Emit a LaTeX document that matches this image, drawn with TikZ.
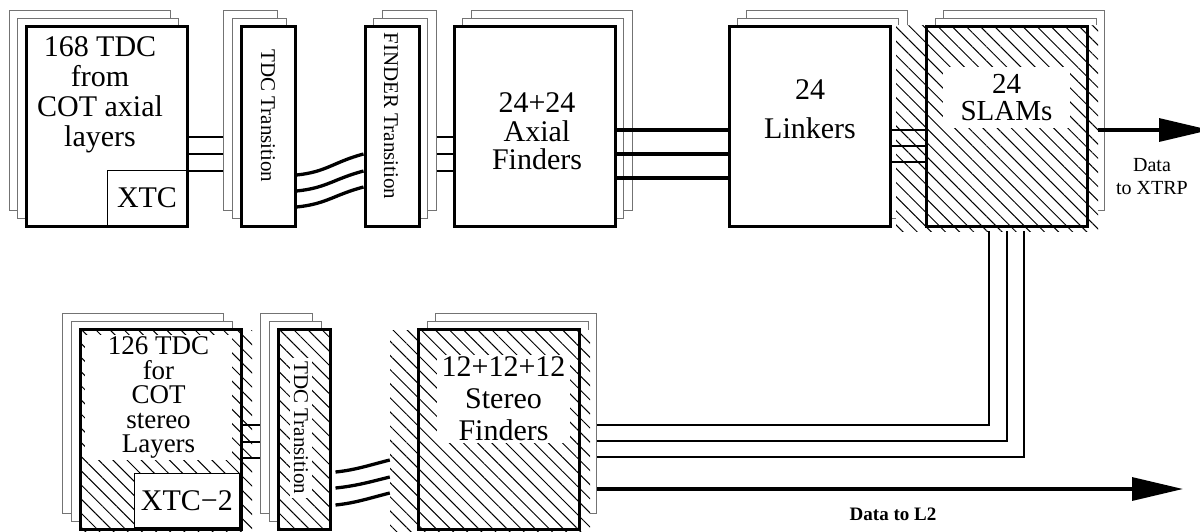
\documentclass[tikz,border=0pt]{standalone}
\usepackage{fontspec}
\setmainfont{Liberation Serif}
\usetikzlibrary{arrows.meta, calc, patterns.meta}

\pgfdeclarelayer{sheets}
\pgfdeclarelayer{hatching}
\pgfsetlayers{sheets,hatching,main}

\begin{document}
\begin{tikzpicture}[
    x=1pt, y=-1pt,
    board/.style={draw, line width=3pt, minimum width=161pt, minimum height=200pt, inner sep=0pt},
    slim/.style={board, minimum width=54pt},
    sheet/.style={draw=black!55, line width=1pt, fill=white, minimum height=200pt, inner sep=0pt},
    hatched/.style={preaction={fill=white}, pattern={Lines[angle=-45, distance=10pt, line width=1pt]}},
    lbl/.style={font=\fontsize{30}{30}\selectfont, align=center, inner sep=0pt},
    vlbl/.style={font=\fontsize{21}{21}\selectfont, rotate=-90, inner sep=0pt},
    datalbl/.style={font=\fontsize{20}{23}\selectfont, align=center, inner sep=0pt},
    wire/.style={line width=1.1pt},
    bus/.style={line width=3.3pt},
    feed/.style={line width=3.3pt, -{Triangle[length=51pt, width=23pt]}},
]
\useasboundingbox (0,0) rectangle (1200,531);

% upper row: axial path
\node[board, fill=white] (tdcax) at (107,126) {};
\node[slim, fill=white] (tdctr) at (268,126) {};
\node[slim, fill=white] (fndtr) at (392,126) {};
\node[board, fill=white] (axf) at (534.5,126) {};
\node[board, fill=white] (lnk) at (809.5,126) {};
\node[board] (slam) at (1007,126) {};

% lower row: stereo path
\node[board] (tdcst) at (160.5,429) {};
\node[slim, minimum width=52pt, hatched] (tdctr2) at (304,429) {};
\node[board] (stf) at (499,429) {};

% stacked boards behind
\begin{pgfonlayer}{sheets}
\foreach \bx/\sd/\bw in {tdcax/-1/161, tdctr/-1/54, fndtr/1/54, axf/1/161, lnk/1/161,
                         slam/1/161, tdcst/-1/161, tdctr2/-1/52, stf/1/161}
  \foreach \k in {2,1}
    \node[sheet, minimum width=\bw pt] (\bx-\k) at ($(\bx)+(\sd*8.7*\k,-8*\k)$) {};
\end{pgfonlayer}

% hatched areas
\begin{pgfonlayer}{hatching}
\node[hatched, minimum width=202pt, minimum height=206pt, inner sep=0pt] (slamh) at (997,128) {};
\node[hatched, minimum width=172pt, minimum height=205pt, inner sep=0pt] (tdcsth) at (166,432.5) {};
\node[hatched, minimum width=200pt, minimum height=205pt, inner sep=0pt] (stfh) at (490,432.5) {};
\end{pgfonlayer}

% labels
\node[lbl] (tdcaxt) at (100,95) {168 TDC\\from\\COT axial\\layers};
\node[lbl, draw, line width=1pt, minimum width=80pt, minimum height=56pt] (xtc) at (147,198) {XTC};
\node[vlbl] (tdctrt) at (268,116) {TDC Transition};
\node[vlbl] (fndtrt) at (391,116) {FINDER Transition};
\node[lbl, font=\fontsize{30}{28.5}\selectfont] (axft) at (537,131.5) {24+24\\Axial\\Finders};
\node[lbl, font=\fontsize{30}{39}\selectfont] (lnkt) at (810,109) {24\\Linkers};
\node[lbl, fill=white, minimum width=127pt, minimum height=61pt, font=\fontsize{29}{27}\selectfont] (slamt) at (1006.5,97.5) {24\\SLAMs};

\node[lbl, fill=white, minimum width=147pt, minimum height=125pt, font=\fontsize{27}{24.5}\selectfont] (tdcstt) at (158.5,397.5) {126 TDC\\for\\COT\\stereo\\Layers};
\node[lbl, draw, fill=white, line width=1pt, minimum width=105.6pt, minimum height=54.6pt] (xtc2) at (186.8,500.3) {XTC−2};
\node[vlbl, fill=white, inner sep=4pt] (tdctr2t) at (301,428) {TDC Transition};
\node[lbl, fill=white, minimum width=133pt, minimum height=88pt, font=\fontsize{30}{32}\selectfont] (stft) at (503.5,399) {12+12+12\\Stereo\\Finders};

% outputs
\coordinate (xtrp) at (1210,130);
\coordinate (l2) at (1183,489);
\node[datalbl] (xtrpt) at (1152,177) {Data\\to XTRP};
\node[datalbl, font=\fontsize{19}{19}\selectfont\bfseries] (l2t) at (893,514) {Data to L2};

% connectors, upper row
\foreach \y in {137,154,171}
  \draw[wire] (tdcax.east |- 0,\y) -- (tdctr-2.west |- 0,\y);
\foreach \a/\b in {175/154, 191/171, 207/187}
  \draw[bus] (tdctr.east |- 0,\a) .. controls +(30,-3) and +(-30,8) .. (fndtr.west |- 0,\b);
\foreach \y in {137,154,171}
  \draw[wire] (fndtr-2.east |- 0,\y) -- (axf.west |- 0,\y);
\foreach \y in {130,154,178}
  \draw[bus] (axf.east |- 0,\y) -- (lnk.west |- 0,\y);
\foreach \y in {130,146,162}
  \draw[wire] (lnk.east |- 0,\y) -- (slam.west |- 0,\y);
\draw[feed] (slamh.east |- 0,130) -- (xtrp);

% SLAMs down to stereo finders
\foreach \x/\y in {989/425, 1007/441, 1024/457}
  \draw[wire] (slamh.south -| \x,0) |- (stf-2.east |- 0,\y);

% connectors, lower row
\foreach \y in {425,442,458}
  \draw[wire] (tdcst.east |- 0,\y) -- (tdctr2-2.west |- 0,\y);
\foreach \a/\b in {472/460, 488/477, 505/493}
  \draw[bus] ($(tdctr2.east |- 0,\a)+(5,0)$) .. controls +(20,-2) and +(-20,5) .. (stfh.west |- 0,\b);
\draw[feed] (stf-2.east |- 0,489) -- (l2);

\end{tikzpicture}
\end{document}
